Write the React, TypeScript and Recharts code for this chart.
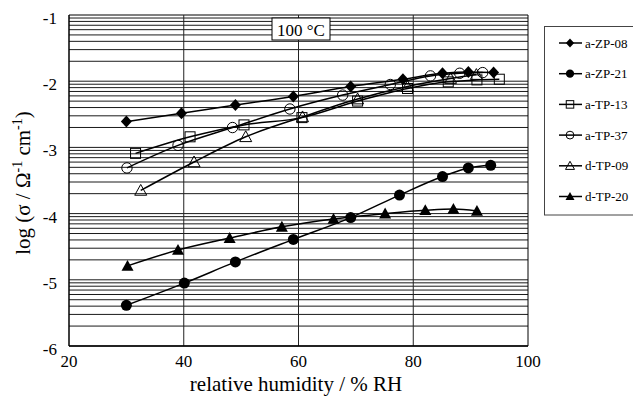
import React from 'react';
import { LineChart, Line, XAxis, YAxis, ReferenceLine } from 'recharts';

// ---- axis ticks ----
const xTicks = [20, 40, 60, 80, 100];
const yTicks = [-6, -5, -4, -3, -2, -1];
const gridDecades = [-6, -5, -4, -3, -2];
const gridMultipliers = [1, 2, 3, 4, 5, 6, 7, 8, 9];
const xGrid = [40, 60, 80];

// ---- series values (relative humidity %RH, log sigma) ----
const rhZP08 = [30, 39.6, 49, 59.1, 69.1, 78.2, 85.1, 89.6, 94];
const logZP08 = [-2.61, -2.485, -2.36, -2.23, -2.08, -1.97, -1.88, -1.86, -1.87];

const rhZP21 = [30, 40.1, 49, 59.1, 69.1, 77.6, 85.1, 89.6, 93.5];
const logZP21 = [-5.385, -5.05, -4.73, -4.39, -4.06, -3.72, -3.44, -3.31, -3.27];

const rhTP13 = [31.6, 41.1, 50.5, 60.6, 70.3, 79.0, 86.1, 91.1, 95.0];
const logTP13 = [-3.09, -2.84, -2.66, -2.55, -2.3, -2.11, -2.01, -1.98, -1.97];

const rhTP37 = [30.1, 39.0, 48.5, 58.5, 67.7, 76.0, 83.0, 88.1, 92.1];
const logTP37 = [-3.31, -2.97, -2.7, -2.42, -2.21, -2.05, -1.92, -1.88, -1.87];

const rhTP09 = [32.5, 41.8, 50.8, 60.7, 70.3, 79.0, 86.5, 91.0];
const logTP09 = [-3.65, -3.22, -2.84, -2.54, -2.27, -2.08, -1.96, -1.9];

const rhTP20 = [30.2, 39.0, 48.0, 57.1, 66.1, 75.1, 82.1, 87.0, 91.1];
const logTP20 = [-4.79, -4.55, -4.37, -4.2, -4.08, -4.0, -3.95, -3.93, -3.96];

const seriesNames = ['a-ZP-08', 'a-ZP-21', 'a-TP-13', 'a-TP-37', 'd-TP-09', 'd-TP-20'];
const seriesShapes = ['diamond', 'circle', 'square', 'ocircle', 'otriangle', 'triangle'];
const seriesX = [rhZP08, rhZP21, rhTP13, rhTP37, rhTP09, rhTP20];
const seriesY = [logZP08, logZP21, logTP13, logTP37, logTP09, logTP20];

const FONT = '"Liberation Serif", "Times New Roman", serif';

const series = seriesNames.map((name, i) => ({
  name,
  shape: seriesShapes[i],
  data: seriesX[i].map((x, j) => ({ x, y: seriesY[i][j] })),
}));

const gridValues: number[] = [];
gridDecades.forEach((d) => gridMultipliers.forEach((m) => gridValues.push(d + Math.log10(m))));

function Marker({ cx, cy, shape, scale = 1 }: { cx: number; cy: number; shape: string; scale?: number }) {
  if (cx == null || cy == null) return null;
  const s = scale;
  switch (shape) {
    case 'diamond': {
      const rx = 5.5 * s, ry = 6 * s;
      return <polygon points={`${cx},${cy - ry} ${cx + rx},${cy} ${cx},${cy + ry} ${cx - rx},${cy}`} fill="#000" />;
    }
    case 'circle':
      return <circle cx={cx} cy={cy} r={5.5 * s} fill="#000" />;
    case 'square': {
      const r = 5 * s;
      return <rect x={cx - r} y={cy - r} width={2 * r} height={2 * r} fill="none" stroke="#000" strokeWidth={1} />;
    }
    case 'ocircle':
      return <circle cx={cx} cy={cy} r={5.2 * s} fill="none" stroke="#000" strokeWidth={1} />;
    case 'otriangle': {
      const r = 6 * s;
      return <polygon points={`${cx},${cy - r} ${cx + r},${cy + r * 0.8} ${cx - r},${cy + r * 0.8}`} fill="none" stroke="#000" strokeWidth={1} />;
    }
    case 'triangle': {
      const r = 6 * s;
      return <polygon points={`${cx},${cy - r} ${cx + r},${cy + r * 0.8} ${cx - r},${cy + r * 0.8}`} fill="#000" />;
    }
    default:
      return null;
  }
}

export default function App() {
  return (
    <div style={{ position: 'absolute', left: 0, top: 0, width: 633, height: 397, overflow: 'hidden', background: '#fff' }}>
      <LineChart width={633} height={397} margin={{ top: 15, right: 105, left: 9, bottom: 21 }}>
        <XAxis
          dataKey="x"
          type="number"
          domain={[20, 100]}
          ticks={xTicks}
          allowDataOverflow
          height={30}
          tickLine={false}
          tickSize={0}
          tickMargin={9}
          axisLine={{ stroke: '#000', strokeWidth: 1.5 }}
          tick={{ fill: '#000', fontSize: 17, fontFamily: FONT }}
        />
        <YAxis
          type="number"
          domain={[-6, -1]}
          ticks={yTicks}
          allowDataOverflow
          width={60}
          tickLine={false}
          tickSize={0}
          tickMargin={12}
          axisLine={{ stroke: '#000', strokeWidth: 1.5 }}
          tick={{ fill: '#000', fontSize: 17, fontFamily: FONT, dy: 3 }}
        />
        {gridValues.map((v) => (
          <ReferenceLine key={`h${v}`} y={v} stroke="#1a1a1a" strokeWidth={1} ifOverflow="extendDomain" />
        ))}
        <ReferenceLine y={-1} stroke="#000" strokeWidth={1} />
        {xGrid.map((v) => (
          <ReferenceLine key={`v${v}`} x={v} stroke="#222" strokeWidth={1} />
        ))}
        <ReferenceLine x={100} stroke="#000" strokeWidth={1} />
        {series.map((s) => (
          <Line
            key={s.name}
            data={s.data}
            dataKey="y"
            name={s.name}
            type="monotone"
            stroke="#000"
            strokeWidth={1.5}
            isAnimationActive={false}
            dot={(p: any) => <Marker key={`${s.name}-${p.index}`} cx={p.cx} cy={p.cy} shape={s.shape} />}
            activeDot={false}
            legendType="none"
          />
        ))}
      </LineChart>
      <svg width={633} height={397} style={{ position: 'absolute', left: 0, top: 0, pointerEvents: 'none' }}>
        <text x={296} y={391} textAnchor="middle" fontSize={21} fontFamily={FONT} fill="#000">
          relative humidity / % RH
        </text>
        <text transform="translate(30,183) rotate(-90)" textAnchor="middle" fontSize={21} fontFamily={FONT} fill="#000">
          log (σ / Ω<tspan dy={-8} fontSize={14}>-1</tspan>
          <tspan dy={8}> cm</tspan>
          <tspan dy={-8} fontSize={14}>-1</tspan>
          <tspan dy={8}>)</tspan>
        </text>
        <rect x={272} y={18} width={58} height={22} fill="#fff" stroke="#000" strokeWidth={1} />
        <text x={301} y={36} textAnchor="middle" fontSize={17} fontFamily={FONT} fill="#000">
          100 °C
        </text>
        <rect x={544.5} y={26.5} width={100} height={188.5} fill="#fff" stroke="#444" strokeWidth={1} />
        {series.map((s, i) => {
          const cy = 43 + i * 30.7;
          return (
            <g key={`lg${s.name}`}>
              <line x1={559} x2={582} y1={cy} y2={cy} stroke="#000" strokeWidth={1.5} />
              <Marker cx={570} cy={cy} shape={s.shape} scale={0.75} />
              <text x={585} y={cy + 4.5} fontSize={13} fontFamily={FONT} fill="#000">
                {s.name}
              </text>
            </g>
          );
        })}
      </svg>
    </div>
  );
}
